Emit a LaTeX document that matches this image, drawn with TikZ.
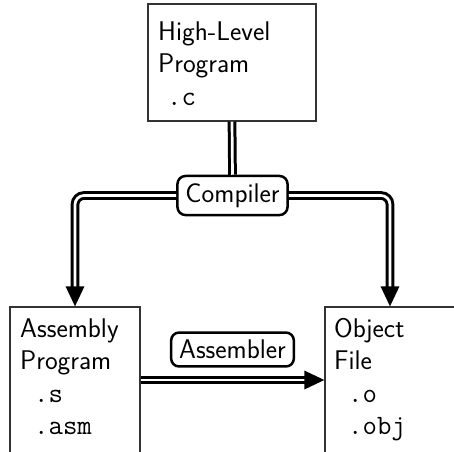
\documentclass[tikz,border=0pt]{standalone}
\usepackage{fontspec}
\usetikzlibrary{arrows.meta}
\newcommand{\fext}[1]{{\fontsize{28}{32.5}\selectfont\ttfamily #1}}
\begin{document}
\begin{tikzpicture}[x=1pt,y=-1pt,
  filebox/.style={draw=black!80, line width=1.1pt, rectangle, inner sep=0pt},
  proc/.style={draw=black, line width=2.5pt, rounded corners=8pt, inner xsep=8pt, inner ysep=7.5pt,
    font=\fontsize{27}{32.5}\selectfont\sffamily},
  ftext/.style={inner sep=0pt, anchor=base west, align=left,
    font=\fontsize{27}{32.5}\selectfont\sffamily},
  dbl/.style={double=white, double distance=2.7pt, line width=3pt, draw=black},
  tip/.style={-{Triangle[length=20pt,width=18pt]}}
]
\useasboundingbox (0,0) rectangle (454,451);
\clip (0,0) rectangle (454,451);
% boxes
\node[filebox, minimum width=168pt, minimum height=117pt] (top) at (232,62.5) {};
\node[filebox, minimum width=130pt, minimum height=146pt] (left) at (75,380) {};
\node[filebox, minimum width=130pt, minimum height=146pt] (right) at (390,380) {};
% texts (anchored at the baseline of the last line)
\node[ftext] (toptext) at (158,105) {High-Level\\Program\\\hspace*{9pt}\fext{.c}};
\node[ftext] (lefttext) at (20,434.5) {Assembly\\Program\\\hspace*{14pt}\fext{.s}\\\hspace*{14pt}\fext{.asm}};
\node[ftext] (righttext) at (334,434.5) {Object\\File\\\hspace*{14pt}\fext{.o}\\\hspace*{14pt}\fext{.obj}};
% process labels
\node[proc] (comp) at (232.5,195.5) {Compiler};
\node[proc] (asm) at (232.5,349.5) {Assembler};
% connectors
\draw[dbl] (top.south) -- (comp.north);
\draw[dbl, tip, rounded corners=9pt] (comp.west) -| (left.north);
\draw[dbl, tip, rounded corners=9pt] (comp.east) -| (right.north);
\draw[dbl, tip] (left.east) -- (right.west);
\end{tikzpicture}
\end{document}
